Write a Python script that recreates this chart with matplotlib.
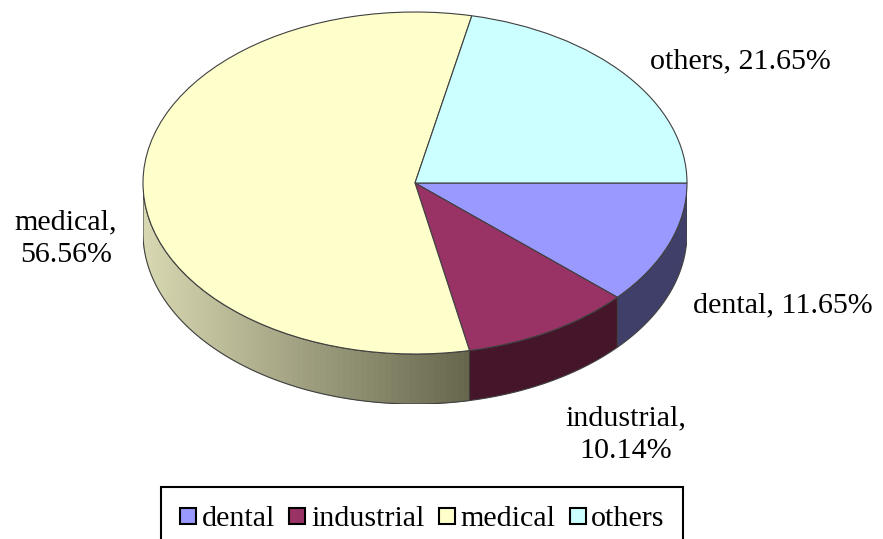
import numpy as np
import matplotlib.pyplot as plt
from matplotlib.patches import Polygon
from matplotlib.lines import Line2D
from matplotlib.colors import to_rgb
from matplotlib.font_manager import FontProperties

plt.rcParams['font.family'] = ['Liberation Serif', 'DejaVu Serif']

# data
names = ['dental', 'industrial', 'medical', 'others']
shares = [11.65, 10.14, 56.56, 21.65]
top_colors = ['#9999ff', '#993366', '#ffffcc', '#ccffff']
side_colors = ['#3f3f6a', '#451529', None, '#8fb3b3']
med_light = np.array(to_rgb('#d8d8b2'))
med_dark = np.array(to_rgb('#66664d'))

W, H = 883, 539
fig = plt.figure(figsize=(W / 100, H / 100), dpi=100)

depth = 50 / 171  # thickness of the disc, in radius units (vertical)
ax = fig.add_axes([143 / W, 1 - 404 / H, 544 / W, 392 / H])

wedges, _ = ax.pie(shares, colors=top_colors, startangle=0, counterclock=False,
                   radius=1, wedgeprops=dict(edgecolor='#404040', linewidth=0.8, zorder=3))
ax.set_aspect('auto')
ax.set_xlim(-1, 1)
ax.set_ylim(-1 - depth, 1)
ax.axis('off')

# side band of the disc (front half only)
for w, sc in zip(wedges, side_colors):
    lo = max(w.theta1, -180)
    hi = min(w.theta2, 0)
    if hi <= lo:
        continue
    t = np.radians(np.linspace(lo, hi, 80))
    xs, ys = np.cos(t), np.sin(t)
    if sc is None:
        # shaded side for medical, light on the left, dark on the right
        x0, x1 = -1.0, np.cos(np.radians(hi))
        for i in range(len(t) - 1):
            f = ((xs[i] + xs[i + 1]) / 2 - x0) / (x1 - x0)
            c = med_light + (med_dark - med_light) * np.clip(f, 0, 1)
            quad = [(xs[i], ys[i]), (xs[i + 1], ys[i + 1]),
                    (xs[i + 1], ys[i + 1] - depth), (xs[i], ys[i] - depth)]
            ax.add_patch(Polygon(quad, closed=True, facecolor=c, edgecolor=c,
                                 linewidth=0.5, zorder=1))
        fc = 'none'
    else:
        fc = sc
    pts = list(zip(xs, ys)) + list(zip(xs[::-1], ys[::-1] - depth))
    ax.add_patch(Polygon(pts, closed=True, facecolor=fc, edgecolor='#404040',
                         linewidth=0.8, zorder=2))

# labels (y = baseline of the last line)
lab_font = 21.6
serif = FontProperties(family=['Liberation Serif', 'DejaVu Serif'], size=lab_font)
lab_pos = [(783, 312, 'dental'), (626, 458, 'industrial'),
           (66, 262, 'medical'), (740, 68, 'others')]
for (x, y, n), v in zip(lab_pos, shares):
    if n in ('industrial', 'medical'):
        s = f'{n},\n{v:.2f}%'
    else:
        s = f'{n}, {v:.2f}%'
    fig.text(x / W, 1 - y / H, s, ha='center', va='baseline', fontproperties=serif,
             linespacing=1.32, multialignment='center')

# legend
handles = [Line2D([], [], marker='s', linestyle='none', markersize=11.5,
                  markerfacecolor=c, markeredgecolor='black', markeredgewidth=1.5)
           for c in top_colors]
leg = fig.legend(handles, names, loc='upper left', bbox_to_anchor=(161 / W, 1 - 487 / H),
                 ncol=4, prop=serif, frameon=True, fancybox=False,
                 edgecolor='black', framealpha=1, borderpad=0.6, borderaxespad=0,
                 handlelength=0.6, handletextpad=0.15, columnspacing=0.45)
leg.get_frame().set_linewidth(1.5)

fig.savefig('out.png', dpi=100)
